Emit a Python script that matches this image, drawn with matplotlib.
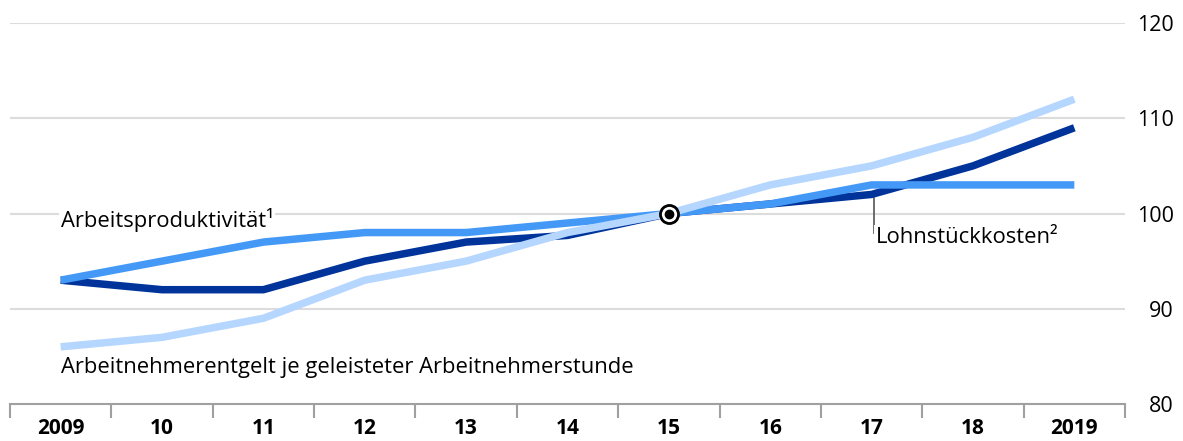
import matplotlib
matplotlib.use("Agg")
import matplotlib.pyplot as plt

years = [2009, 2010, 2011, 2012, 2013, 2014, 2015, 2016, 2017, 2018, 2019]
year_labels = ["2009", "10", "11", "12", "13", "14", "15", "16", "17", "18", "2019"]
lohnstueckkosten = [93, 92, 92, 95, 97, 97.7, 100, 101, 102, 105, 109]
arbeitsproduktivitaet = [93, 95, 97, 98, 98, 99, 100, 101, 103, 103, 103]
arbeitnehmerentgelt = [86, 87, 89, 93, 95, 98, 100, 103, 105, 108, 112]
y_ticks = [80, 90, 100, 110, 120]

plt.rcParams['font.family'] = ['Open Sans', 'DejaVu Sans']

fig = plt.figure(figsize=(11.83, 4.41), dpi=100)
W, H = 1183, 441
ax = fig.add_axes([10 / W, 1 - 404 / H, (1125 - 10) / W, (404 - 23) / H])
ax.set_xlim(2008.5, 2019.5)
ax.set_ylim(80, 120)

for v in y_ticks[1:]:
    ax.axhline(v, color="#dcdcdc", lw=1.5, zorder=0)

c_dark = "#00349a"
c_mid = "#4499f7"
c_light = "#b5d6fe"
ax.plot(years, lohnstueckkosten, color=c_dark, lw=5.4, solid_capstyle="butt", zorder=2)
ax.plot(years, arbeitsproduktivitaet, color=c_mid, lw=5.4, solid_capstyle="butt", zorder=3)
ax.plot(years, arbeitnehmerentgelt, color=c_light, lw=5.4, solid_capstyle="butt", zorder=4)

ax.plot([2015], [100], marker="o", ms=13, mfc="white", mec="black", mew=2, zorder=5)
ax.plot([2015], [100], marker="o", ms=6, mfc="black", mec="black", zorder=6)

for s in ["top", "left", "right"]:
    ax.spines[s].set_visible(False)
ax.spines["bottom"].set_color("#a0a0a0")
ax.spines["bottom"].set_linewidth(1.5)
ax.spines["bottom"].set_zorder(1)

ax.set_xticks([y + 0.5 for y in [2008] + years])
ax.set_xticklabels([])
ax.tick_params(axis="x", length=10, width=1.5, color="#a0a0a0", direction="out", bottom=True)
ax.set_xticks(years, minor=True)
ax.set_xticklabels(year_labels, minor=True, fontsize=15, fontweight="bold")
ax.tick_params(axis="x", which="minor", length=0, pad=10)

ax.yaxis.tick_right()
ax.set_yticks(y_ticks)
ax.set_yticklabels([str(v) for v in y_ticks], fontsize=15.5, ha="right")
ax.tick_params(axis="y", length=0, pad=35)

bbox = dict(facecolor="white", edgecolor="none", pad=1)
ax.text(2009.0, 99.3, "Arbeitsproduktivität¹", fontsize=15.8, ha="left", va="center",
        bbox=bbox, zorder=1)
ax.text(2009.0, 83.8, "Arbeitnehmerentgelt je geleisteter Arbeitnehmerstunde", fontsize=15.8,
        ha="left", va="center", bbox=bbox, zorder=1)
ax.plot([2017.02, 2017.02], [101.6, 98.0], color="#555555", lw=1.2, zorder=1)
ax.text(2017.04, 97.5, "Lohnstückkosten²", fontsize=15.8, ha="left", va="center",
        bbox=bbox, zorder=1)

fig.savefig("out.png", dpi=100)
